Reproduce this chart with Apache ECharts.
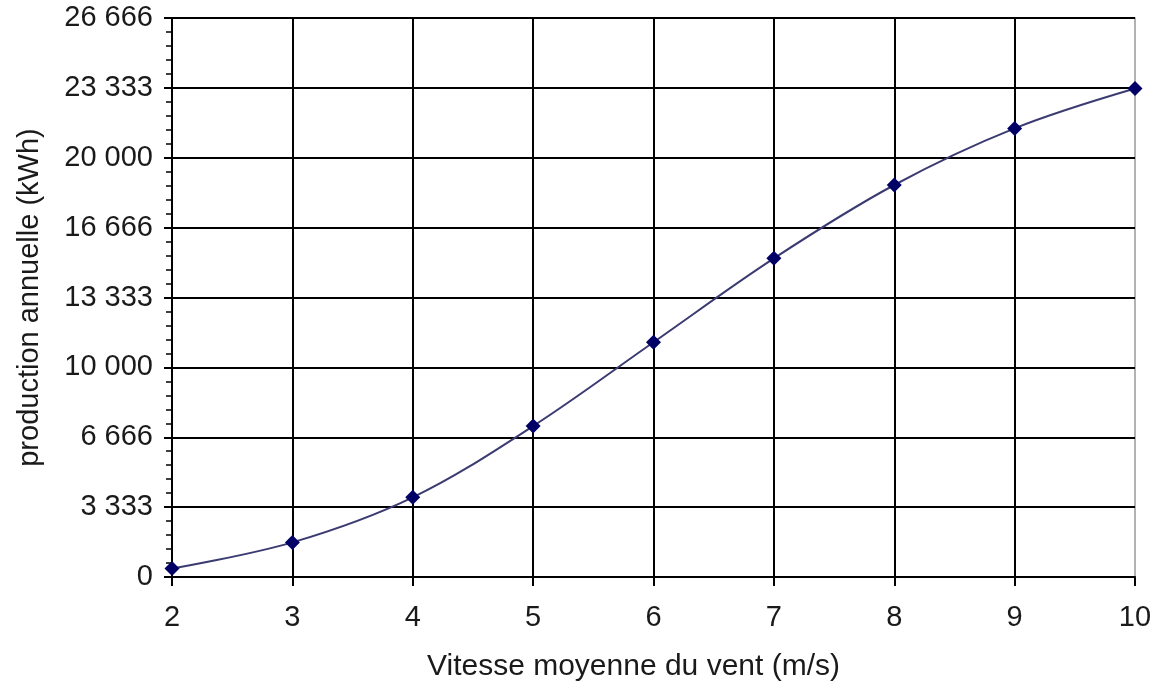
<!DOCTYPE html>
<html>
<head>
<meta charset="utf-8">
<script src="https://cdn.jsdelivr.net/npm/echarts@6/dist/echarts.min.js"></script>
<style>
  html, body { margin: 0; padding: 0; background: #fff; }
  #chart { width: 1154px; height: 683px; }
</style>
</head>
<body>
<div id="chart"></div>
<script>
// vitesse moyenne du vent (m/s)
var windSpeed = [2, 3, 4, 5, 6, 7, 8, 9, 10];
// production annuelle (kWh)
var production = [400, 1650, 3800, 7200, 11200, 15200, 18700, 21400, 23300];
// graduations de l'axe vertical
var yMax = 80000 / 3;
var yStep = yMax / 8;

var myChart = echarts.init(document.getElementById('chart'));

// séparateur de milliers avec espace, valeurs tronquées
function fmt(v) {
  var n = Math.floor(v + 0.01);
  return String(n).replace(/\B(?=(\d{3})+(?!\d))/g, ' ');
}

var textColor = '#1a1a1a';
var font = 'Liberation Sans, Arial, sans-serif';

var option = {
  backgroundColor: '#fff',
  animation: false,
  grid: {
    left: 172,
    right: 19,
    top: 18,
    bottom: 106,
    show: true,
    borderColor: '#999',
    borderWidth: 1.5,
    outerBoundsMode: 'none',
    containLabel: false
  },
  xAxis: {
    type: 'value',
    min: 2,
    max: 10,
    interval: 1,
    name: 'Vitesse moyenne du vent (m/s)',
    nameLocation: 'middle',
    nameGap: 75,
    nameTextStyle: {
      color: textColor,
      fontFamily: font,
      fontSize: 30,
      padding: [0, 40, 0, 0]
    },
    axisLine: { show: true, lineStyle: { color: '#000', width: 2 } },
    axisTick: { show: true, inside: false, length: 9, lineStyle: { color: '#000', width: 2 } },
    axisLabel: {
      color: textColor,
      fontFamily: font,
      fontSize: 29,
      margin: 26
    },
    splitLine: {
      show: true,
      showMaxLine: false,
      lineStyle: { color: '#000', width: 2 }
    }
  },
  yAxis: {
    type: 'value',
    min: 0,
    max: yMax,
    interval: yStep,
    name: 'production annuelle (kWh)',
    nameLocation: 'middle',
    nameGap: 128,
    nameTextStyle: {
      color: textColor,
      fontFamily: font,
      fontSize: 29
    },
    axisLine: { show: true, lineStyle: { color: '#000', width: 2 } },
    axisTick: { show: true, inside: false, length: 8, lineStyle: { color: '#000', width: 2 } },
    minorTick: { show: true, splitNumber: 5, length: 6, lineStyle: { color: '#000', width: 1.5 } },
    axisLabel: {
      color: textColor,
      fontFamily: font,
      fontSize: 29,
      margin: 19,
      formatter: fmt
    },
    splitLine: {
      show: true,
      showMaxLine: false,
      lineStyle: { color: '#000', width: 2 }
    }
  },
  series: [
    {
      type: 'line',
      data: windSpeed.map(function (x, i) { return [x, production[i]]; }),
      smooth: 0.35,
      symbol: 'diamond',
      symbolSize: 15,
      lineStyle: { color: '#3b3b72', width: 2 },
      itemStyle: { color: '#000066' }
    }
  ]
};

myChart.setOption(option);
</script>
</body>
</html>
